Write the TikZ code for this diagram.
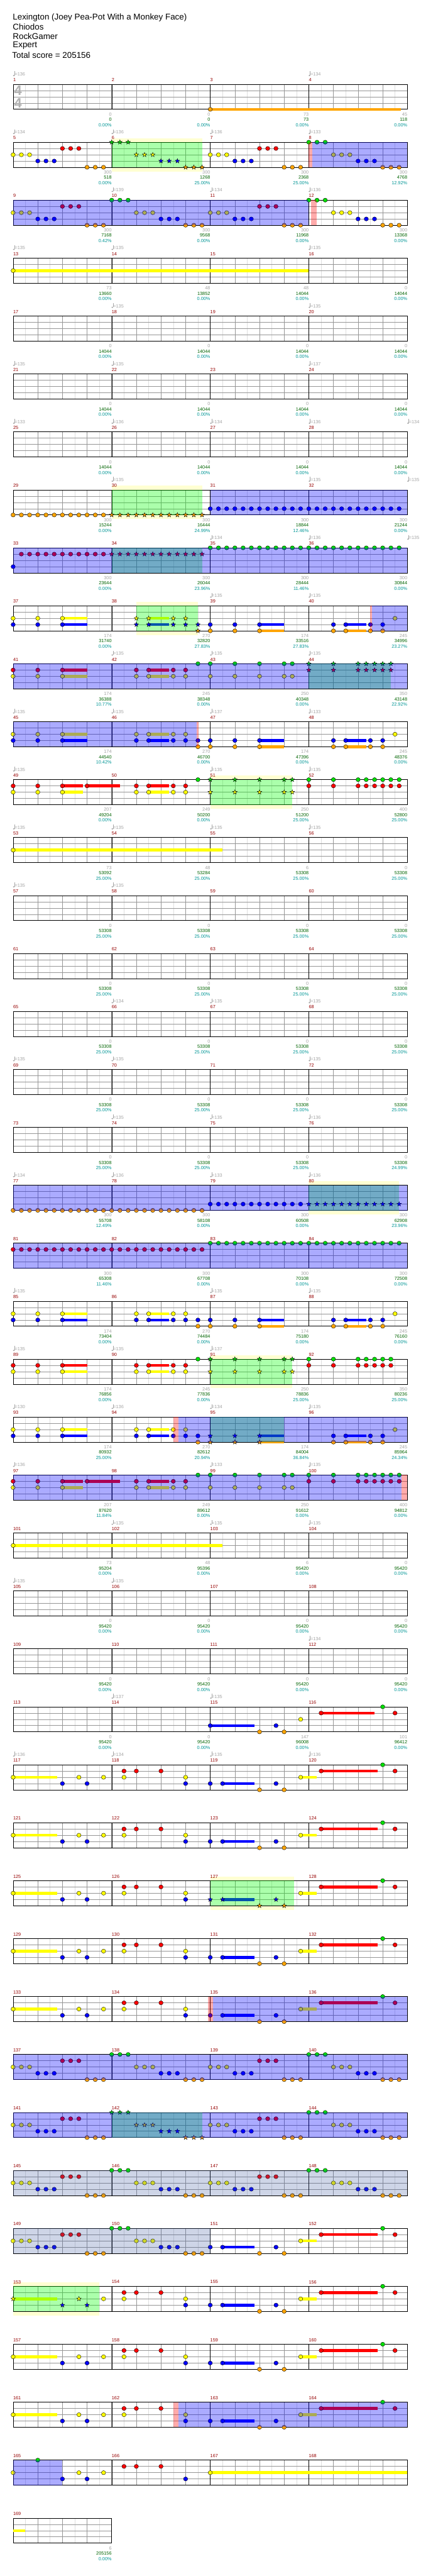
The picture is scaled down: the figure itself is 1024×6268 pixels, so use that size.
\documentclass[tikz,border=0pt]{standalone}
\usepackage{fontspec}
\newfontfamily\lab{Liberation Sans}
\definecolor{L0}{RGB}{0,224,0}
\definecolor{L1}{RGB}{255,0,0}
\definecolor{L2}{RGB}{255,255,0}
\definecolor{L3}{RGB}{0,0,255}
\definecolor{L4}{RGB}{255,165,0}
\definecolor{gg}{RGB}{0,255,0}
\definecolor{steel}{RGB}{60,90,160}
\definecolor{mnum}{RGB}{150,0,0}
\definecolor{tgray}{RGB}{165,165,165}
\definecolor{sgreen}{RGB}{0,100,0}
\definecolor{pteal}{RGB}{0,150,150}
\definecolor{pale}{RGB}{255,255,210}
\definecolor{gline}{RGB}{150,150,150}
\definecolor{lline}{RGB}{222,222,222}
\newcommand\lf{\lab\fontsize{11.2}{13}\selectfont}
\tikzset{
 lb/.style={anchor=east,inner sep=0,font=\lf},
 mn/.style={anchor=west,inner sep=0,font=\lf,text=mnum},
 hd/.style={anchor=west,inner sep=0,font=\lab\fontsize{20.5}{24}\selectfont},
 nt/.style={draw=black,line width=0.6},
}
% grid of a row
\newcommand\GRID[2]{%
 \pgfmathsetmacro\T{205+141*(#1-1)}%
 \pgfmathsetmacro\W{32+240*#2}%
 \pgfmathtruncatemacro\NH{4*#2-1}%
 \foreach \i in {0,...,\NH}{\draw[lline,line width=0.7] ({32+60*\i+30},\T) -- ++(0,61);}%
 \foreach \i in {1,...,\NH}{\draw[gline,line width=0.9] ({32+60*\i},\T) -- ++(0,61);}%
 \foreach \k in {1,2,3}{\draw[gline,line width=1] (32,{\T+15.25*\k}) -- (\W,{\T+15.25*\k});}%
 \pgfmathtruncatemacro\NM{#2-1}%
 \ifnum\NM>0 \foreach \i in {1,...,\NM}{\draw[black,line width=0.6] ({32+240*\i},\T) -- ++(0,61);}\fi
 \draw[black,line width=1.2] (32,\T) rectangle (\W,{\T+61});%
 \foreach \c in {1,...,#2}{\pgfmathtruncatemacro\m{4*(#1-1)+\c}\node[mn] at ({32+240*(\c-1)},{\T-10.5}) {\m};}%
}
\newcommand\LBR[2]{\pgfmathsetmacro\T{205+141*(#1-1)}%
 \foreach \a/\b/\c [count=\i from 1] in {#2}{\pgfmathsetmacro\xe{32+240*\i}%
 \node[lb,text=tgray] at (\xe,{\T+73}) {\a};
 \node[lb,text=sgreen] at (\xe,{\T+86}) {\b};
 \node[lb,text=pteal] at (\xe,{\T+99}) {\c\%};}}
\newcommand\TPR[2]{\pgfmathsetmacro\T{205+141*(#1-1)}%
 \foreach \c/\v in {#2}{\pgfmathsetmacro\xs{32+240*\c}%
 \fill[tgray] ({\xs+1.6},{\T-21.2}) ellipse [x radius=2.2,y radius=1.6];
 \draw[tgray,line width=0.7] ({\xs+3.5},{\T-21.5}) -- ({\xs+3.5},{\T-31.5});
 \node[lb,anchor=west,text=tgray] at ({\xs+3.8},{\T-24.5}) {=\v};}}
\newcommand\NT[3]{\pgfmathsetmacro\T{205+141*(#1-1)+15.25*#2}%
 \foreach \b in {#3}{\draw[nt,fill=L#2] ({32+60*\b},\T) ellipse [x radius=5.2,y radius=5];}}
\newcommand\TR[3]{\pgfmathsetmacro\T{205+141*(#1-1)+15.25*#2}%
 \foreach \b in {#3}{\foreach \k in {0,0.3333,0.6667}{\draw[nt,fill=L#2] ({32+60*(\b+\k)},\T) ellipse [x radius=5.2,y radius=5];}}}
\newcommand\starpath{(0,-5.8) -- (1.4,-1.9) -- (5.5,-1.8) -- (2.2,0.7) -- (3.4,4.7) -- (0,2.3) -- (-3.4,4.7) -- (-2.2,0.7) -- (-5.5,-1.8) -- (-1.4,-1.9) -- cycle}
\newcommand\ST[3]{\pgfmathsetmacro\T{205+141*(#1-1)+15.25*#2}%
 \foreach \b in {#3}{\draw[nt,fill=L#2,shift={({32+60*\b},\T)}] \starpath;}}
\newcommand\TS[3]{\pgfmathsetmacro\T{205+141*(#1-1)+15.25*#2}%
 \foreach \b in {#3}{\foreach \k in {0,0.3333,0.6667}{\draw[nt,fill=L#2,shift={({32+60*(\b+\k)},\T)}] \starpath;}}}
\newcommand\SU[4]{\pgfmathsetmacro\T{205+141*(#1-1)+15.25*#2}%
 \fill[L#2] ({32+60*#3},{\T-3.5}) rectangle ({32+60*#4},{\T+3.5});}
\newcommand\PALE[3]{\pgfmathsetmacro\T{205+141*(#1-1)}%
 \fill[pale] ({32+60*#2},{\T-10}) rectangle ({32+60*#3},\T);
 \fill[pale] ({32+60*#2},{\T+61}) rectangle ({32+60*#3},{\T+71});}
\newcommand\GRN[3]{\pgfmathsetmacro\T{205+141*(#1-1)}%
 \fill[gg,opacity=0.33] ({32+60*#2},\T) rectangle ({32+60*#3},{\T+61});}
\newcommand\BL[3]{\pgfmathsetmacro\T{205+141*(#1-1)}%
 \fill[L3,opacity=0.33] ({32+60*#2},\T) rectangle ({32+60*#3},{\T+61});}
\newcommand\SL[3]{\pgfmathsetmacro\T{205+141*(#1-1)}%
 \fill[steel,opacity=0.25] ({32+60*#2},\T) rectangle ({32+60*#3},{\T+61});}
\newcommand\PK[3]{\pgfmathsetmacro\T{205+141*(#1-1)}%
 \fill[L1,opacity=0.33] ({32+60*#2},\T) rectangle ({32+60*#3},{\T+61});}
% recurring riff (as in measures 117-120)
\newcommand\RIFFA[1]{\SU{#1}{2}{0}{1.8}\NT{#1}{2}{0,2.67,3.67,4.5,7}\NT{#1}{3}{2,3,7}\NT{#1}{1}{4.5,5,6}}
\newcommand\RIFFB[1]{\SU{#1}{3}{8.5}{9.8}\SU{#1}{2}{11.67}{12.33}\SU{#1}{1}{12.5}{14.8}%
 \NT{#1}{3}{8,8.5,10.67}\NT{#1}{4}{10,11}\NT{#1}{2}{11.67}\NT{#1}{1}{12.5,15.5}\NT{#1}{0}{15}}
\newcommand\ZIG[1]{\TR{#1}{2}{0,5,8,13}\TR{#1}{3}{1,6,9,14}\TR{#1}{1}{2,10}\TR{#1}{4}{3,7,11,15}\TR{#1}{0}{4,12}}
\begin{document}
\begin{tikzpicture}[x=1pt,y=-1pt]
\useasboundingbox (0,0) rectangle (1024,6268);
\fill[white] (0,0) rectangle (1024,6268);
\node[hd] (h1) at (31,42.7) {Lexington (Joey Pea-Pot With a Monkey Face)};
\node[hd] (h2) at (31,65.5) {Chiodos};
\node[hd] (h3) at (31,88.3) {RockGamer};
\node[hd] (h4) at (31,111) {Expert};
\node[hd] (h5) at (29.5,134) {Total score = 205156};
% ---- row 1
\GRID{1}{4}
\node[inner sep=0,text=tgray!85,font=\lab\bfseries\fontsize{33.5}{34}\selectfont] (ts1) at (44,221) {4};
\node[inner sep=0,text=tgray!85,font=\lab\bfseries\fontsize{33.5}{34}\selectfont] (ts2) at (44,251) {4};
\SU{1}{4}{8}{15.75}\NT{1}{4}{8}
\TPR{1}{0/136,3/134}
\LBR{1}{0/0/0.00,0/0/0.00,73/73/0.00,45/118/0.00}
% ---- row 2
\PALE{2}{4}{7.67}\GRID{2}{4}\GRN{2}{4}{7.67}
\TR{2}{2}{0,8,13}\TR{2}{3}{1,9,14}\TR{2}{1}{2,10}\TR{2}{4}{3,11,15}\TR{2}{0}{12}
\TS{2}{0}{4}\TS{2}{2}{5}\TS{2}{3}{6}\TS{2}{4}{7}
\PK{2}{12}{12.13}\BL{2}{12.13}{16}
\TPR{2}{0/134,1/136,2/136,3/133}
\LBR{2}{300/518/0.00,300/1268/25.00,300/2368/25.00,300/4768/12.92}
% ---- row 3
\GRID{3}{4}
\ZIG{3}
\BL{3}{0}{12}\PK{3}{12.1}{12.33}
\TPR{3}{1/139,2/134,3/136}
\LBR{3}{300/7168/0.42,300/9568/0.00,300/11968/0.00,300/13368/0.00}
% ---- rows 4-7
\GRID{4}{4}\SU{4}{2}{0}{12}\NT{4}{2}{0}
\TPR{4}{0/135,1/135,3/135}
\LBR{4}{73/13660/0.00,48/13852/0.00,48/14044/0.00,0/14044/0.00}
\GRID{5}{4}\TPR{5}{1/135,3/135}
\LBR{5}{0/14044/0.00,0/14044/0.00,0/14044/0.00,0/14044/0.00}
\GRID{6}{4}\TPR{6}{0/135,1/135,3/137}
\LBR{6}{0/14044/0.00,0/14044/0.00,0/14044/0.00,0/14044/0.00}
\GRID{7}{4}\TPR{7}{0/133,1/136,2/134,3/136,4/134}
\LBR{7}{0/14044/0.00,0/14044/0.00,0/14044/0.00,0/14044/0.00}
% ---- row 8
\PALE{8}{4}{7.67}\GRID{8}{4}\GRN{8}{4}{7.67}
\TR{8}{4}{0,1,2,3}\TS{8}{4}{4,5,6,7}\TR{8}{3}{8,...,15}\BL{8}{8}{16}
\TPR{8}{1/135,3/135,4/135}
\LBR{8}{300/15244/0.00,300/16444/24.99,300/18844/12.46,300/21244/0.00}
% ---- row 9
\GRID{9}{4}\GRN{9}{4}{7.67}
\NT{9}{3}{0}\NT{9}{1}{0.3333,0.6667}\TR{9}{1}{1,2,3}\TS{9}{1}{4,5,6,7}\TR{9}{0}{8,...,15}\BL{9}{0}{16}
\TPR{9}{2/134,3/136,4/135}
\LBR{9}{300/23644/0.00,300/26044/23.96,300/28444/11.46,300/30844/0.00}
% ---- row 10
\PALE{10}{5}{7.5}\GRID{10}{4}
\SU{10}{2}{2}{3}\SU{10}{3}{2}{3}\SU{10}{2}{5.5}{6.33}\SU{10}{3}{5.5}{6.33}
\SU{10}{3}{10}{11}\SU{10}{4}{10}{11}\SU{10}{3}{13.5}{14.33}\SU{10}{4}{13.5}{14.33}
\GRN{10}{5}{7.5}
\NT{10}{2}{0,1,2}\NT{10}{3}{0,1,2}
\ST{10}{2}{5,5.5,6.5,7}\ST{10}{3}{5,5.5,6.5,7,7.5}\ST{10}{4}{7.5}
\NT{10}{3}{8,9,10,13,13.5,14.5,15}\NT{10}{4}{8,9,10,13,13.5,14.5,15}\NT{10}{2}{15.5}
\PK{10}{14.48}{14.56}\BL{10}{14.56}{16}
\TPR{10}{2/135,3/135}
\LBR{10}{174/31740/0.00,270/32820/27.83,174/33516/27.83,245/34996/23.27}
% ---- row 11
\GRID{11}{4}
\SU{11}{1}{2}{3}\SU{11}{2}{2}{3}\SU{11}{1}{5.5}{6.33}\SU{11}{2}{5.5}{6.33}
\GRN{11}{12}{15.33}
\NT{11}{1}{0,1,2,5,5.5,6.5,7}\NT{11}{2}{0,1,2,5,5.5,6.5,7,8,9,10,11,11.33}
\NT{11}{0}{7.5,8,9,10,11,11.33}
\ST{11}{0}{12,13,14,14.33,14.67,15,15.33}\ST{11}{1}{12,13,14,14.33,14.67,15,15.33}
\BL{11}{0}{16}
\TPR{11}{1/135,2/135,3/135}
\LBR{11}{174/36388/10.77,245/38348/0.00,250/40348/0.00,350/43148/22.92}
% ---- row 12
\GRID{12}{4}
\SU{12}{2}{2}{3}\SU{12}{2}{5.5}{6.33}\SU{12}{3}{2}{3}\SU{12}{3}{5.5}{6.33}\SU{12}{3}{10}{11}\SU{12}{3}{13.5}{14.33}\SU{12}{4}{10}{11}\SU{12}{4}{13.5}{14.33}
\NT{12}{2}{0,1,2,5,5.5,6.5,7,15.5}
\NT{12}{3}{0,1,2,5,5.5,6.5,7,7.5,8,9,10,13,13.5,14.5,15}
\NT{12}{4}{7.5,8,9,10,13,13.5,14.5,15}
\BL{12}{0}{7.45}\PK{12}{7.45}{7.53}
\TPR{12}{0/135,1/135,2/137,3/133}
\LBR{12}{174/44540/10.42,270/46700/0.00,174/47396/0.00,245/48376/0.00}
% ---- row 13
\PALE{13}{8}{11.33}\GRID{13}{4}
\SU{13}{1}{2}{2.83}\SU{13}{1}{3}{4.33}\SU{13}{1}{5.5}{6.33}\SU{13}{2}{2}{2.83}\SU{13}{2}{5.5}{6.33}
\GRN{13}{8}{11.33}
\NT{13}{1}{0,1,2,3,5,5.5,6.5,7,12,13,14,14.33,14.67,15,15.33,15.67}
\NT{13}{2}{0,1,2,5,5.5,6.5,7}
\NT{13}{0}{7.5,12,13,14,14.33,14.67,15,15.33,15.67}
\ST{13}{0}{8,9,10,11,11.33}\ST{13}{2}{8,9,10,11,11.33}
\TPR{13}{0/135,2/135,3/135}
\LBR{13}{207/49204/0.00,249/50200/0.00,250/51200/25.00,400/52800/25.00}
% ---- rows 14-19
\GRID{14}{4}\SU{14}{2}{0}{8.5}\NT{14}{2}{0}
\TPR{14}{0/135,1/135,2/135,3/135}
\LBR{14}{73/53092/25.00,48/53284/25.00,6/53308/25.00,0/53308/25.00}
\GRID{15}{4}\TPR{15}{0/135,1/135}
\LBR{15}{0/53308/25.00,0/53308/25.00,0/53308/25.00,0/53308/25.00}
\GRID{16}{4}
\LBR{16}{0/53308/25.00,0/53308/25.00,0/53308/25.00,0/53308/25.00}
\GRID{17}{4}\TPR{17}{1/134,2/135,3/135}
\LBR{17}{0/53308/25.00,0/53308/25.00,0/53308/25.00,0/53308/25.00}
\GRID{18}{4}\TPR{18}{0/135,1/135,3/135}
\LBR{18}{0/53308/25.00,0/53308/25.00,0/53308/25.00,0/53308/25.00}
\GRID{19}{4}\TPR{19}{1/135,2/135,3/136}
\LBR{19}{0/53308/25.00,0/53308/25.00,0/53308/25.00,0/53308/24.99}
% ---- row 20
\PALE{20}{12}{15.67}\GRID{20}{4}\GRN{20}{12}{15.67}
\TR{20}{4}{0,...,7}\TR{20}{3}{8,9,10,11}\TS{20}{3}{12,13,14,15}\BL{20}{0}{16}
\TPR{20}{0/134,1/136,2/133,3/136}
\LBR{20}{300/55708/12.49,300/58108/0.00,300/60508/0.00,300/62908/23.96}
% ---- row 21
\GRID{21}{4}
\TR{21}{1}{0,...,7}\TR{21}{0}{8,...,15}\BL{21}{0}{16}
\LBR{21}{300/65308/11.46,300/67708/0.00,300/70108/0.00,300/72508/0.00}
% ---- row 22
\GRID{22}{4}
\SU{22}{2}{2}{3}\SU{22}{2}{5.5}{6.33}\SU{22}{3}{2}{3}\SU{22}{3}{5.5}{6.33}\SU{22}{3}{10}{11}\SU{22}{3}{13.5}{14.33}\SU{22}{4}{10}{11}\SU{22}{4}{13.5}{14.33}
\NT{22}{2}{0,1,2,5,5.5,6.5,7,15.5}
\NT{22}{3}{0,1,2,5,5.5,6.5,7,7.5,8,9,10,13,13.5,14.5,15}
\NT{22}{4}{7.5,8,9,10,13,13.5,14.5,15}
\TPR{22}{0/135,2/135,3/135}
\LBR{22}{174/73404/0.00,270/74484/0.00,174/75180/0.00,245/76160/0.00}
% ---- row 23
\PALE{23}{8}{11.33}\GRID{23}{4}
\SU{23}{1}{2}{3}\SU{23}{1}{5.5}{6.33}\SU{23}{2}{2}{3}\SU{23}{2}{5.5}{6.33}
\GRN{23}{8}{11.33}
\NT{23}{1}{0,1,2,5,5.5,6.5,7,12,13,14,14.33,14.67,15,15.33}
\NT{23}{2}{0,1,2,5,5.5,6.5,7}
\NT{23}{0}{7.5,12,13,14,14.33,14.67,15,15.33}
\ST{23}{0}{8,9,10,11,11.33}\ST{23}{2}{8,9,10,11,11.33}
\TPR{23}{0/135,1/135,2/137}
\LBR{23}{174/76856/0.00,245/77836/0.00,250/78836/25.00,350/80236/25.00}
% ---- row 24
\GRID{24}{4}
\SU{24}{2}{2}{3}\SU{24}{2}{5.5}{6.33}\SU{24}{3}{2}{3}\SU{24}{3}{5.5}{6.33}\SU{24}{3}{10}{11}\SU{24}{3}{13.5}{14.33}\SU{24}{4}{10}{11}\SU{24}{4}{13.5}{14.33}
\GRN{24}{8}{11}
\NT{24}{2}{0,1,2,5,5.5,6.5,7,15.5}
\NT{24}{3}{0,1,2,5,5.5,6.5,7,7.5,13,13.5,14.5,15}\ST{24}{3}{8,9,10}
\NT{24}{4}{7.5,13,13.5,14.5,15}\ST{24}{4}{8,9,10}
\PK{24}{6.5}{6.7}\BL{24}{6.7}{16}
\TPR{24}{0/130,1/136,2/134,3/135}
\LBR{24}{174/80932/25.00,270/82612/20.94,174/84004/36.84,245/85964/24.34}
% ---- row 25
\GRID{25}{4}
\SU{25}{1}{2}{2.83}\SU{25}{1}{3}{4.33}\SU{25}{1}{5.5}{6.33}\SU{25}{2}{2}{2.83}\SU{25}{2}{5.5}{6.33}
\NT{25}{1}{0,1,2,3,5,5.5,6.5,7,12,13,14,14.33,14.67,15,15.33,15.67}
\NT{25}{2}{0,1,2,5,5.5,6.5,7,8,9,10,11,11.33}
\NT{25}{0}{7.5,8,9,10,11,11.33,12,13,14,14.33,14.67,15,15.33,15.67}
\BL{25}{0}{15.77}\PK{25}{15.77}{16}
\TPR{25}{0/136,2/133,3/135}
\LBR{25}{207/87620/11.84,249/89612/0.00,250/91612/0.00,400/94812/0.00}
% ---- rows 26-28
\GRID{26}{4}\SU{26}{2}{0}{8.5}\NT{26}{2}{0}
\TPR{26}{1/135,2/135,3/135}
\LBR{26}{73/95204/0.00,48/95396/0.00,6/95420/0.00,0/95420/0.00}
\GRID{27}{4}\TPR{27}{0/135,1/135}
\LBR{27}{0/95420/0.00,0/95420/0.00,0/95420/0.00,0/95420/0.00}
\GRID{28}{4}\TPR{28}{3/134}
\LBR{28}{0/95420/0.00,0/95420/0.00,0/95420/0.00,0/95420/0.00}
% ---- row 29
\GRID{29}{4}
\SU{29}{3}{8}{9.8}\SU{29}{1}{12.5}{14.67}
\NT{29}{3}{8,10.67}\NT{29}{4}{10,11}\NT{29}{2}{11.67}\NT{29}{1}{12.5,15.5}\NT{29}{0}{15}
\TPR{29}{1/137,2/135}
\LBR{29}{0/95420/0.00,0/95420/0.00,147/96008/0.00,101/96412/0.00}
% ---- row 30
\GRID{30}{4}
\RIFFA{30}\RIFFB{30}
\TPR{30}{0/136,1/134,2/135,3/136}
% ---- row 31
\GRID{31}{4}\RIFFA{31}\RIFFB{31}
% ---- row 32
\PALE{32}{8}{11.4}\GRID{32}{4}
\RIFFA{32}
\SU{32}{3}{8.5}{9.8}\SU{32}{2}{11.67}{12.33}\SU{32}{1}{12.5}{14.8}
\GRN{32}{8}{11.4}
\ST{32}{3}{8,8.5,10.67}\ST{32}{4}{10,11}
\NT{32}{2}{11.67}\NT{32}{1}{12.5,15.5}\NT{32}{0}{15}
% ---- row 33
\GRID{33}{4}\RIFFA{33}\RIFFB{33}
% ---- row 34
\GRID{34}{4}\RIFFA{34}\RIFFB{34}\PK{34}{7.9}{8.1}\BL{34}{8.1}{16}
% ---- row 35
\GRID{35}{4}\ZIG{35}\BL{35}{0}{16}
% ---- row 36
\GRID{36}{4}\GRN{36}{4}{7.67}
\TR{36}{2}{0,8,13}\TR{36}{3}{1,9,14}\TR{36}{1}{2,10}\TR{36}{4}{3,11,15}\TR{36}{0}{12}
\TS{36}{0}{4}\TS{36}{2}{5}\TS{36}{3}{6}\TS{36}{4}{7}
\BL{36}{0}{16}
% ---- row 37
\GRID{37}{4}\ZIG{37}\SL{37}{0}{16}
% ---- row 38
\GRID{38}{4}
\TR{38}{2}{0,5}\TR{38}{3}{1,6}\TR{38}{1}{2}\TR{38}{4}{3,7}\TR{38}{0}{4}
\RIFFB{38}\SL{38}{0}{8}
% ---- row 39
\PALE{39}{0}{3.5}\GRID{39}{4}
\SU{39}{2}{0}{1.8}\GRN{39}{0}{3.5}
\ST{39}{2}{0,2.67}\ST{39}{3}{2,3}
\NT{39}{2}{3.67,4.5,7}\NT{39}{3}{7}\NT{39}{1}{4.5,5,6}
\RIFFB{39}
% ---- row 40
\GRID{40}{4}\RIFFA{40}\RIFFB{40}
% ---- row 41
\GRID{41}{4}\RIFFA{41}\RIFFB{41}\PK{41}{6.5}{6.7}\BL{41}{6.7}{16}
% ---- row 42
\GRID{42}{4}
\SU{42}{2}{8}{16}
\NT{42}{2}{0,2.67,3.67,8}\NT{42}{3}{2,3,7}\NT{42}{1}{4.5,5,6}\NT{42}{0}{1}
\BL{42}{0}{2}
% ---- row 43
\GRID{43}{1}\SU{43}{2}{0}{0.48}
\LBR{43}{6/205156/0.00}
\end{tikzpicture}
\end{document}
